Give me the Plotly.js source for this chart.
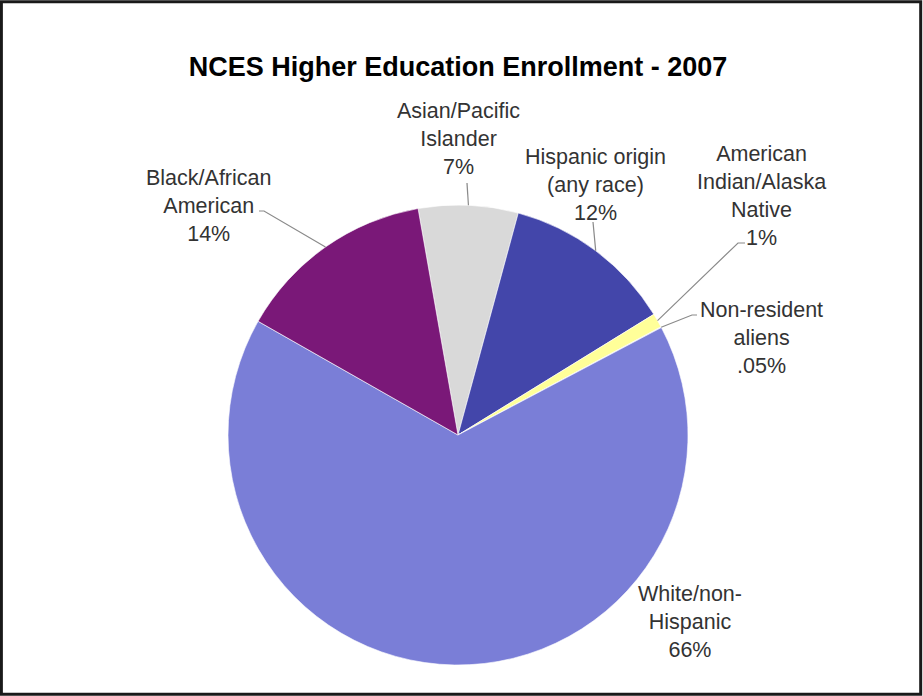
<!DOCTYPE html>
<html>
<head>
<meta charset="utf-8">
<script src="https://cdn.plot.ly/plotly-3.0.1.min.js"></script>
<style>
html,body{margin:0;padding:0;background:#fff;}
#chart{width:923px;height:696px;}
</style>
</head>
<body>
<div id="chart"></div>
<script>
// ---- data ----
var categories = ["Asian/Pacific Islander", "Hispanic origin (any race)", "American Indian/Alaska Native", "Non-resident aliens", "White/non-Hispanic", "Black/African American"];
var shares = [7, 12, 1, 0.05, 66, 14];
var shareLabels = ["7%", "12%", "1%", ".05%", "66%", "14%"];
var labelLines = [
  ["Asian/Pacific", "Islander"],
  ["Hispanic origin", "(any race)"],
  ["American", "Indian/Alaska", "Native"],
  ["Non-resident", "aliens"],
  ["White/non-", "Hispanic"],
  ["Black/African", "American"]
];
var colors = ["#D9D9D9", "#4346AA", "#FFFF99", "#D4D4EA", "#7A7ED7", "#7A1878"];

// ---- geometry (layout) ----
var W = 923, H = 696;
var cx = 458, cy = 435, R = 230;
var rotation = -10;
function px(x){ return x / W; }
function py(y){ return 1 - y / H; }

// label placement (pixels): text block center
var labelPos = [
  {x: 458, y: 139},
  {x: 595, y: 185},
  {x: 761, y: 196},
  {x: 761, y: 338},
  {x: 690, y: 622},
  {x: 208, y: 206}
];
// leader line outer points (pixels), null = no leader
var leaderEnds = [
  [[467, 183]],
  [[593, 222]],
  [[738, 243], [745, 243]],
  [[692, 315], [697, 315]],
  null,
  [[264, 211], [259, 211]]
];

var total = shares.reduce(function(a, b){ return a + b; }, 0);
var shapes = [];
var cum = 0;
for (var i = 0; i < shares.length; i++) {
  var mid = rotation + (cum + shares[i] / 2) / total * 360;
  cum += shares[i];
  if (!leaderEnds[i]) continue;
  var a = mid * Math.PI / 180;
  var ex = cx + R * Math.sin(a), ey = cy - R * Math.cos(a);
  var path = "M" + px(ex) + "," + py(ey);
  leaderEnds[i].forEach(function(p){ path += " L" + px(p[0]) + "," + py(p[1]); });
  shapes.push({type: "path", xref: "paper", yref: "paper", path: path,
    line: {color: "#8a8a8a", width: 1.2}});
}
// frame
shapes.push({type: "rect", xref: "paper", yref: "paper", x0: 0.0015, x1: 0.9975, y0: 0.0025, y1: 0.9975,
  line: {color: "#1a1a1a", width: 3}});

var annotations = [];
for (var j = 0; j < categories.length; j++) {
  var lines = labelLines[j].concat([shareLabels[j]]);
  annotations.push({
    xref: "paper", yref: "paper",
    x: px(labelPos[j].x), y: py(labelPos[j].y),
    xanchor: "center", yanchor: "middle",
    text: lines.join("<br>"),
    showarrow: false, align: "center",
    font: {family: "Liberation Sans, Arial, sans-serif", size: 21.5, color: "#333333"}
  });
}

var trace = {
  type: "pie",
  labels: categories,
  values: shares,
  sort: false,
  direction: "clockwise",
  rotation: rotation,
  marker: {colors: colors, line: {color: "#ffffff", width: 0.6}},
  textinfo: "none",
  hoverinfo: "label+percent",
  domain: {x: [px(cx - R), px(cx + R)], y: [py(cy + R), py(cy - R)]},
  showlegend: false
};

var layout = {
  width: W, height: H,
  margin: {l: 0, r: 0, t: 0, b: 0},
  paper_bgcolor: "#ffffff",
  title: {text: "<b>NCES Higher Education Enrollment - 2007</b>",
    x: px(458), xanchor: "center", y: py(67), yanchor: "middle",
    font: {family: "Liberation Sans, Arial, sans-serif", size: 27, color: "#000000"}},
  showlegend: false,
  shapes: shapes,
  annotations: annotations
};

Plotly.newPlot("chart", [trace], layout, {displayModeBar: false, staticPlot: true});
</script>
</body>
</html>
